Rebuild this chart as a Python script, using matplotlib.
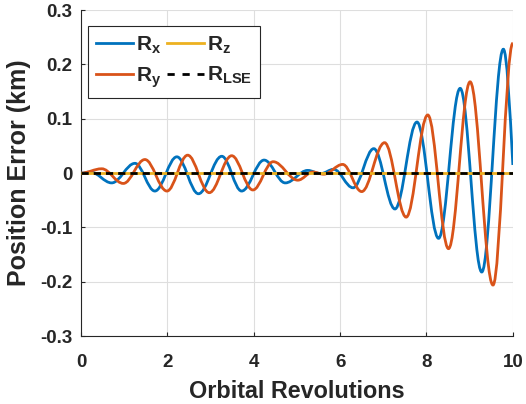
import matplotlib
matplotlib.use("Agg")
import matplotlib.pyplot as plt
from matplotlib.path import Path
from matplotlib.patches import PathPatch
from matplotlib.lines import Line2D

# ---- data (extrema of each oscillation) ----
rx_x = [0.0, 0.22, 0.71, 1.25, 1.71, 2.22, 2.72, 3.26, 3.72, 4.24, 4.73, 5.25,
        5.55, 5.85, 6.30, 6.78, 7.27, 7.78, 8.28, 8.78, 9.28, 9.78, 10.0]
rx_y = [0.0, 0.002, -0.018, 0.018, -0.033, 0.030, -0.038, 0.031, -0.033, 0.024,
        -0.018, 0.005, -0.001, 0.007, -0.027, 0.045, -0.066, 0.094, -0.120,
        0.156, -0.182, 0.228, 0.015]

ry_x = [0.0, 0.48, 0.98, 1.48, 1.99, 2.47, 2.97, 3.49, 3.98, 4.45, 5.02, 5.37,
        5.62, 6.06, 6.50, 7.03, 7.53, 8.03, 8.51, 9.01, 9.54, 10.0]
ry_y = [0.0, 0.008, -0.019, 0.025, -0.033, 0.033, -0.036, 0.032, -0.031, 0.021,
        -0.013, 0.002, -0.002, 0.016, -0.034, 0.056, -0.081, 0.107, -0.139,
        0.168, -0.206, 0.239]

rz_x = [0.0, 10.0]
rz_y = [0.0, 0.0]
rlse_x = [0.0, 10.0]
rlse_y = [0.0, 0.0]

labels = [r'$\mathbf{R_x}$', r'$\mathbf{R_y}$', r'$\mathbf{R_z}$', r'$\mathbf{R_{LSE}}$']
xticks = [0, 2, 4, 6, 8, 10]
yticks = [-0.3, -0.2, -0.1, 0, 0.1, 0.2, 0.3]
ytick_labels = ['-0.3', '-0.2', '-0.1', '0', '0.1', '0.2', '0.3']

C_BLUE = '#0072BD'
C_RED = '#D95319'
C_YEL = '#EDB120'
TXT = '#262626'

plt.rcParams['font.family'] = ['Liberation Sans', 'DejaVu Sans']
plt.rcParams['mathtext.fontset'] = 'custom'
plt.rcParams['mathtext.rm'] = 'Liberation Sans'
plt.rcParams['mathtext.bf'] = 'Liberation Sans:bold'
plt.rcParams['mathtext.it'] = 'Liberation Sans:italic'


def smooth_path(xs, ys, end_slope_factor=None):
    """Smooth curve through the extrema (horizontal tangents at the extrema)."""
    k = 0.364
    verts = [(xs[0], ys[0])]
    codes = [Path.MOVETO]
    n = len(xs)
    for i in range(n - 1):
        xa, ya, xb, yb = xs[i], ys[i], xs[i + 1], ys[i + 1]
        d = xb - xa
        p1 = (xa + k * d, ya)
        if i == n - 2 and end_slope_factor is not None:
            s = end_slope_factor * (yb - ya) / d
            p2 = (xb - d / 3, yb - s * d / 3)
        else:
            p2 = (xb - k * d, yb)
        verts += [p1, p2, (xb, yb)]
        codes += [Path.CURVE4] * 3
    return Path(verts, codes)


fig = plt.figure(figsize=(5.26, 4.04), dpi=100)
ax = fig.add_axes([0.154, 0.168, 0.821, 0.807])

lw = 2.0
dash = (0, (2.6, 1.8))
ax.add_patch(PathPatch(smooth_path(rx_x, rx_y, 1.5), transform=ax.transData,
                       fill=False, edgecolor=C_BLUE, linewidth=lw, zorder=3))
ax.add_patch(PathPatch(smooth_path(ry_x, ry_y), transform=ax.transData,
                       fill=False, edgecolor=C_RED, linewidth=lw, zorder=3))
ax.plot(rz_x, rz_y, color=C_YEL, linewidth=lw, zorder=4)
ax.plot(rlse_x, rlse_y, color='black', linewidth=lw, linestyle=dash, zorder=5)

ax.set_xlim(0, 10)
ax.set_ylim(-0.3, 0.3)
ax.set_xticks(xticks)
ax.set_xticklabels([str(t) for t in xticks])
ax.set_yticks(yticks)
ax.set_yticklabels(ytick_labels)

ax.grid(True, color='#dedede', linewidth=0.8)
ax.set_axisbelow(True)
for s in ['top', 'right']:
    ax.spines[s].set_visible(False)
for s in ['left', 'bottom']:
    ax.spines[s].set_color(TXT)
    ax.spines[s].set_linewidth(0.8)

ax.tick_params(direction='in', length=3, width=0.8, color=TXT,
               labelsize=13.5, labelcolor=TXT, pad=6)
ax.tick_params(axis='x', pad=13)
for lab in ax.get_xticklabels() + ax.get_yticklabels():
    lab.set_fontweight('bold')

ax.set_xlabel('Orbital Revolutions', fontsize=16.8, fontweight='bold', color=TXT, labelpad=6)
ax.set_ylabel('Position Error (km)', fontsize=18, fontweight='bold', color=TXT)
ax.yaxis.set_label_coords(-0.115, 0.50)

handles = [Line2D([], [], color=C_BLUE, linewidth=lw),
           Line2D([], [], color=C_RED, linewidth=lw),
           Line2D([], [], color=C_YEL, linewidth=lw),
           Line2D([], [], color='black', linewidth=lw, linestyle=(0, (2.6, 2.8)))]
leg = ax.legend(handles, labels, ncol=2, loc='upper left',
                bbox_to_anchor=(0.016, 0.951), borderaxespad=0,
                fontsize=15, frameon=True, fancybox=False, framealpha=1,
                edgecolor=TXT, handlelength=1.75, handletextpad=0.15,
                columnspacing=0.3, labelspacing=0.45, borderpad=0.4)
leg.get_frame().set_linewidth(0.8)
for t in leg.get_texts():
    t.set_color(TXT)

fig.savefig('out.png', dpi=100)
